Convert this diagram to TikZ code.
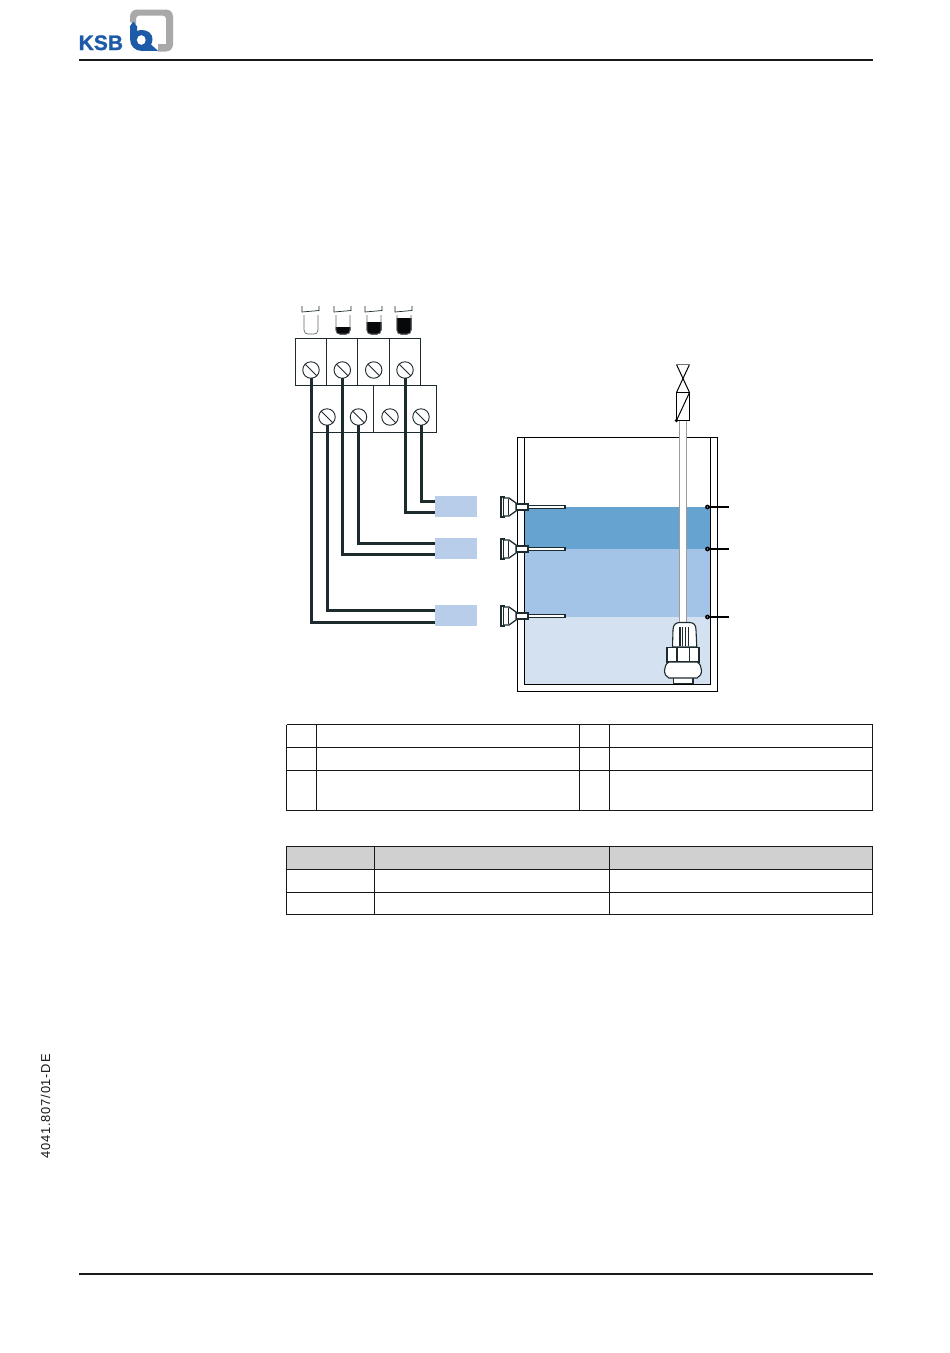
\documentclass[tikz,border=0pt]{standalone}
\usepackage{fontspec}
\setmainfont{Liberation Sans}
\definecolor{ink}{HTML}{1D2A2E}
\definecolor{lvlA}{HTML}{67A3D0}
\definecolor{lvlB}{HTML}{A3C4E6}
\definecolor{lvlC}{HTML}{D3E1F0}
\definecolor{tagblue}{HTML}{B8CDE9}
\definecolor{ksb}{HTML}{1D5BA8}
\definecolor{ksbgray}{HTML}{A9A9A9}
\definecolor{headgray}{HTML}{D0D0D0}
\definecolor{pipegray}{HTML}{9C9C9C}
\tikzset{
 cellbox/.style={draw=ink,line width=.9pt,minimum width=31.4pt,minimum height=47pt,inner sep=0pt,outer sep=0pt,anchor=north west},
 screw/.style={circle,draw=ink,line width=.9pt,minimum size=16.5pt,inner sep=0pt,outer sep=0pt,fill=white},
 wirea/.style={draw=ink,line width=3pt},
 wireb/.style={draw=ink,line width=3pt},
 tagbox/.style={fill=tagblue,minimum width=42pt,minimum height=21pt,inner sep=0pt,outer sep=0pt,anchor=north west},
 tline/.style={draw=black!90,line width=1.2pt},
 thin/.style={line width=.9pt,draw=ink}
}
\begin{document}
\begin{tikzpicture}[x=1pt,y=-1pt]
\useasboundingbox (0,0) rectangle (950,1353);
\fill[white] (0,0) rectangle (950,1353);
% header / footer
\draw[black!90,line width=1.8pt] (79,60) -- (873,60);
\draw[black!90,line width=1.8pt] (79,1274) -- (873,1274);
% logo
\fill[ksbgray] (130,22) [rounded corners=7pt] -- (130,9.5) -- (173,9.5) -- (173,51.5) [sharp corners] -- (158,51.5) -- (158,44) -- (166,44) [rounded corners=3pt] -- (166,15.7) -- (136,15.7) [sharp corners] -- (136,24) -- cycle;
\fill[ksb] (130,39) -- (130,27) -- (129.5,27) -- (133.3,21.5) -- (137.5,27) -- (137,27) -- (137,31)
 .. controls (138.5,30.3) and (140.5,30) .. (142,30)
 .. controls (148,30) and (152.5,34) .. (152.5,39)
 .. controls (152.5,41) and (152,43) .. (151,44.5)
 -- (158,50.8) -- (142,51)
 .. controls (135,51) and (130,46) .. (130,39) -- cycle;
\fill[white] (141.3,40) ellipse[x radius=4.4,y radius=4.8];
\node[font=\bfseries\fontsize{21}{21}\selectfont,text=ksb,inner sep=0pt,anchor=base west] (ksbtext) at (78.5,50) {\addfontfeature{FakeBold=1.2}KSB};
% side text
\node[font=\fontsize{12.9}{13}\selectfont,rotate=90,anchor=west,inner sep=0pt,text=black!90] (docnum) at (45.5,1158.5) {\addfontfeature{LetterSpace=6}4041.807/01-DE};
% level icons
\foreach \x/\h in {311/0,343/7,374/12,404/16}{
 \draw[thin,line width=.7pt] (\x-9,306) -- (\x-9,312) -- (\x+8,310.5) -- (\x+8,306);
 \ifnum\h>0
  \fill[ink!20!black] (\x-7.5,334-\h) -- (\x+7.5,334-\h) -- (\x+7.5,330) .. controls (\x+7.5,333) and (\x+5,334.5) .. (\x+3,334.5) -- (\x-3,334.5) .. controls (\x-5,334.5) and (\x-7.5,333) .. (\x-7.5,330) -- cycle;
 \fi
 \draw[draw=ink!70,line width=.7pt] (\x-7,315) -- (\x-7,330) .. controls (\x-7,333) and (\x-5,334) .. (\x-3,334) -- (\x+3,334) .. controls (\x+5,334) and (\x+7,333) .. (\x+7,330) -- (\x+7,315);
}
% terminals
\foreach \n/\x in {1/295,2/326.3,3/357.7,4/389}{ \node[cellbox] (ta\n) at (\x,338.5) {}; \node[screw] (sa\n) at (\x+16,370) {}; \draw[thin] (sa\n.135) -- (sa\n.-45); }
\foreach \n/\x in {1/311.5,2/342.5,3/373.7,4/405}{ \node[cellbox] (tb\n) at (\x,385.5) {}; }
\foreach \n/\x in {1/327,2/358.5,3/390,4/421}{ \node[screw] (sb\n) at (\x,417) {}; \draw[thin] (sb\n.135) -- (sb\n.-45); }
% tags
\node[tagbox] (tag1) at (435,496) {};
\node[tagbox] (tag2) at (435,538) {};
\node[tagbox] (tag3) at (435,605) {};
% wires
\draw[wireb] (sb4.south) |- ([yshift=5pt]tag1.west);
\draw[wirea] (sa4.south) |- ([yshift=-5.5pt]tag1.west);
\draw[wireb] (sb2.south) |- ([yshift=5pt]tag2.west);
\draw[wirea] (sa2.south) |- ([yshift=-5.5pt]tag2.west);
\draw[wireb] (sb1.south) |- ([yshift=5pt]tag3.west);
\draw[wirea] (sa1.south) |- ([yshift=-6.5pt]tag3.west);
% tank
\fill[lvlA] (524,507) rectangle (710.5,549);
\fill[lvlB] (524,549) rectangle (710.5,617);
\fill[lvlC] (524,617) rectangle (710.5,684.5);
\draw[black,line width=1pt] (517.5,437) rectangle (717.5,691);
\draw[black,line width=1pt] (524,437) -- (524,684.5) -- (710.5,684.5) -- (710.5,437);
% pipe
\fill[white] (679,420) rectangle (687,625);
\draw[pipegray,line width=1.9pt] (679.5,420) -- (679.5,625) (686.5,420) -- (686.5,625);
% valve
\draw[black,line width=1pt,fill=white] (676.5,392.5) rectangle (689.5,420.5);
\draw[black,line width=1pt] (676.5,420.5) -- (689.5,392.5);
\draw[black,line width=1pt] (676.5,392.5) -- (689.5,364.5);
\draw[black,line width=1pt] (689.5,392.5) -- (676.5,364.5);
\draw[black!55,line width=1pt] (676.5,364.5) -- (689.5,364.5);
\fill[black] (676.5,420.5) circle[radius=1.8];
% pump
\begin{scope}[draw=ink,line width=1.1pt]
\draw[fill=white] (672.5,647) -- (673,630) .. controls (673,624.5) and (676,622.5) .. (680,622.5) -- (689,622.5) .. controls (694,622.5) and (696,625) .. (696,630) -- (696.8,647) -- cycle;
\draw (680,627) -- (680,646) (682.7,627) -- (682.7,646) (685.7,627) -- (685.7,646) (688.3,627) -- (688.3,646);
\draw[fill=white] (673.5,676) rectangle (693,683.5);
\draw[fill=white] (667,647.5) rectangle (699,662);
\draw (677,647.5) -- (677,662) (689.3,647.5) -- (689.3,662);
\draw[fill=white] (669,662) .. controls (663,665) and (663,676) .. (669,678) -- (697,678) .. controls (703,676) and (703,665) .. (697,662) -- cycle;
\end{scope}
% float switches left
\foreach \n/\y in {1/507,2/549,3/616}{
 \draw[ink,line width=2pt,fill=white] (500.5,\y-10) rectangle (504,\y+10);
 \draw[ink,line width=1.3pt,fill=white] (504,\y-9) -- (509,\y-9) -- (516,\y-4) -- (516,\y+4) -- (509,\y+9) -- (504,\y+9);
 \draw[ink,line width=.6pt] (508,\y-8) -- (508,\y+8);
 \draw[ink,line width=1.3pt,fill=white] (516.5,\y-3) rectangle (528,\y+3);
 \draw[ink,line width=1.4pt,fill=white] (528,\y-1.7) rectangle (565,\y+1.7);
}
% right probes
\foreach \y in {507,549,617}{
 \draw[black,line width=1.3pt] (707,\y) -- (729,\y);
 \fill[black] (707.5,\y) circle[radius=2.4];
 \fill[lvlC] (707.5,\y) circle[radius=.7];
}
% table 1
\begin{scope}[tline]
\draw (286.5,724.5) -- (873,724.5) (286.5,810.5) -- (873,810.5) (286.5,724.5) -- (286.5,810.5) (872.7,724.5) -- (872.7,810.5);
\draw (286.5,747.3) -- (873,747.3) (286.5,770.3) -- (873,770.3);
\draw (316.3,724.5) -- (316.3,810.5) (579.4,724.5) -- (579.4,810.5) (609.4,724.5) -- (609.4,810.5);
\end{scope}
% table 2
\fill[headgray] (286.5,846.5) rectangle (873,869.3);
\begin{scope}[tline]
\draw (286.5,846.5) rectangle (872.7,914.4);
\draw (286.5,869.3) -- (873,869.3) (286.5,892.3) -- (873,892.3);
\draw (374.4,846.5) -- (374.4,914.4) (609.4,846.5) -- (609.4,914.4);
\end{scope}
\end{tikzpicture}
\end{document}
